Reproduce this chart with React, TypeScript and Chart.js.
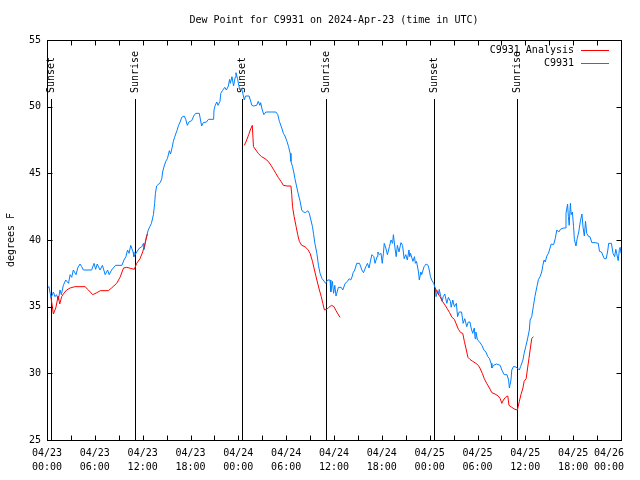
import React, { useEffect, useRef } from "react";
import { Chart, registerables } from "chart.js";

Chart.register(...registerables);

// ---- DATA ----
const chartTitle = "Dew Point for C9931 on 2024-Apr-23 (time in UTC)";
const yAxisTitle = "degrees F";
const seriesNames = ["C9931 Analysis", "C9931"];

const xTickDates = ["04/23", "04/23", "04/23", "04/23", "04/24", "04/24", "04/24", "04/24", "04/25", "04/25", "04/25", "04/25", "04/26"];
const xTickTimes = ["00:00", "06:00", "12:00", "18:00", "00:00", "06:00", "12:00", "18:00", "00:00", "06:00", "12:00", "18:00", "00:00"];

const sunHours = [0.45, 11.0, 24.5, 35.05, 48.6, 59.0];
const sunLabels = ["Sunset", "Sunrise", "Sunset", "Sunrise", "Sunset", "Sunrise"];
const sunLineTop = 50.6;

// Observations (hours since 04/23 00:00 UTC)
const blueHours = [
  0, 0.25, 0.5, 0.8, 1.0, 1.2, 1.42, 1.63, 1.8, 2.05, 2.35, 2.7, 2.9, 3.1, 3.3, 3.64, 3.85, 4.14, 4.35, 4.56,
  5.6, 5.9, 6.1, 6.3, 6.65, 6.95, 7.3, 7.6, 7.8, 8.1, 8.6, 9.4, 9.65, 9.9, 10.1, 10.3, 10.5, 10.8, 10.9, 11.25,
  11.6, 11.9, 12.1, 12.2, 12.4, 12.7, 12.9, 13.1, 13.35, 13.5, 13.6, 13.75, 14.2, 14.4, 14.5, 14.7, 14.9, 15.1, 15.35, 15.5,
  15.7, 15.85, 16.0, 16.3, 16.5, 16.7, 16.9, 17.2, 17.4, 17.6, 17.8, 18.15, 18.4, 18.65, 19.1, 19.3, 19.4, 19.6, 20.0, 20.25,
  20.9, 20.95, 21.1, 21.3, 21.45, 21.7, 21.8, 22.0, 22.3, 22.5, 22.75, 22.9, 23.0, 23.2, 23.4, 23.6, 23.7, 23.9, 24.05, 24.2,
  24.4, 24.6, 24.75, 24.9, 25.35, 25.7, 25.9, 26.3, 26.5, 26.7, 26.8, 27.0, 27.2, 27.45, 28.2, 28.7, 28.95, 29.15, 29.45, 29.65,
  29.85, 30.1, 30.3, 30.5, 30.6, 30.8, 30.95, 31.1, 31.3, 31.5, 31.75, 31.95, 32.15, 32.45, 32.7, 32.9, 33.1, 33.3, 33.45, 33.6,
  33.85, 34.05, 34.25, 34.5, 34.65, 34.95, 35.2, 35.5, 35.6, 35.8, 35.95, 36.1, 36.25, 36.55, 36.9, 37.1, 37.4, 37.7, 37.9, 38.1,
  38.3, 38.4, 38.6, 38.85, 39.2, 39.5, 39.7, 40.0, 40.2, 40.4, 40.6, 40.75, 41.0, 41.15, 41.4, 41.5, 41.7, 41.9, 42.05, 42.2,
  42.3, 42.5, 42.7, 42.95, 43.15, 43.35, 43.45, 43.65, 43.8, 43.95, 44.15, 44.4, 44.6, 44.8, 45.0, 45.2, 45.4, 45.5, 45.6, 45.9,
  46.1, 46.2, 46.35, 46.6, 46.7, 46.9, 47.0, 47.3, 47.55, 47.8, 47.95, 48.1, 48.25, 48.5, 48.7, 48.8, 49.0, 49.15, 49.2, 49.4,
  49.55, 49.7, 49.9, 50.15, 50.35, 50.6, 50.7, 50.9, 51.1, 51.35, 51.5, 51.7, 52.0, 52.2, 52.4, 52.65, 52.85, 53.05, 53.2, 53.4,
  53.6, 53.7, 53.8, 54.0, 54.2, 54.55, 54.8, 55.05, 55.3, 55.5, 55.7, 55.8, 56.0, 56.4, 56.85, 57.05, 57.35, 57.7, 57.9, 58.0,
  58.2, 58.3, 58.5, 58.7, 59.0, 59.25, 59.4, 59.7, 59.85, 60.05, 60.25, 60.5, 60.6, 60.8, 61.0, 61.2, 61.45, 61.65, 61.85, 62.05,
  62.2, 62.35, 62.5, 62.7, 62.9, 63.1, 63.25, 63.55, 63.75, 63.95, 64.2, 64.4, 64.8, 65.0, 65.1, 65.3, 65.4, 65.5, 65.65, 65.75,
  65.9, 66.05, 66.15, 66.35, 66.5, 66.7, 66.9, 67.1, 67.25, 67.4, 67.55, 67.7, 67.95, 68.1, 68.35, 68.75, 69.15, 69.3, 69.55, 69.9,
  70.15, 70.35, 70.45, 70.8, 71.0, 71.2, 71.35, 71.45, 71.65, 71.8, 71.9, 72.0,
];
const blueValues = [
  36.4, 36.5, 35.65, 36.1, 35.75, 35.9, 35.5, 36.25, 35.9, 36.6, 37.0, 36.75, 37.4, 37.2, 37.75, 37.4, 37.9, 38.2, 38.0, 37.75,
  37.75, 38.25, 37.8, 38.2, 37.75, 38.1, 37.4, 37.75, 37.4, 37.75, 38.1, 38.1, 38.5, 38.75, 39.25, 39.0, 39.6, 39.1, 38.75, 39.1,
  39.4, 39.5, 39.75, 39.3, 40.1, 40.75, 41.0, 41.25, 41.9, 42.75, 43.5, 44.05, 44.3, 44.6, 45.1, 45.55, 45.9, 46.1, 46.7, 46.45,
  46.95, 47.4, 47.7, 48.2, 48.6, 48.85, 49.2, 49.3, 49.05, 48.6, 48.85, 48.95, 49.3, 49.5, 49.5, 48.85, 48.55, 48.8, 48.85, 49.05,
  49.05, 49.75, 50.1, 50.35, 50.1, 50.4, 51.0, 51.2, 51.45, 51.25, 51.55, 52.05, 51.75, 52.25, 51.55, 52.2, 52.55, 52.1, 51.6, 51.25,
  51.4, 50.9, 50.5, 50.8, 50.8, 50.1, 50.05, 50.1, 50.4, 50.1, 50.3, 49.75, 49.4, 49.6, 49.6, 49.6, 49.4, 48.9, 48.4, 48.0,
  47.8, 47.4, 47.0, 46.5, 45.9, 45.5, 45.1, 44.6, 44.05, 43.5, 42.9, 42.25, 42.1, 42.05, 42.2, 42.0, 41.5, 41.0, 40.4, 39.75,
  39.0, 38.1, 37.5, 37.1, 37.0, 36.75, 37.0, 37.0, 36.1, 36.9, 36.0, 36.6, 35.8, 36.45, 36.45, 36.25, 36.75, 36.9, 37.1, 37.0,
  37.3, 37.55, 37.75, 38.25, 38.25, 37.75, 37.55, 38.0, 38.25, 37.9, 38.5, 38.9, 38.75, 38.25, 38.75, 39.1, 38.9, 39.0, 38.25, 39.0,
  39.75, 39.4, 38.9, 39.5, 40.0, 39.75, 40.4, 39.4, 38.75, 39.6, 39.1, 39.8, 39.6, 38.6, 38.9, 38.5, 39.25, 38.75, 39.0, 38.4,
  38.75, 38.25, 38.4, 37.6, 37.0, 37.6, 37.4, 38.0, 38.2, 38.1, 37.75, 37.25, 37.0, 36.75, 36.4, 35.75, 36.2, 35.9, 36.3, 35.75,
  35.4, 35.75, 35.95, 35.25, 35.7, 35.4, 34.95, 35.5, 35.0, 35.25, 34.25, 34.6, 34.6, 33.75, 34.1, 33.5, 33.85, 33.85, 33.4, 33.0,
  33.4, 32.6, 33.1, 32.5, 32.4, 32.1, 31.75, 31.6, 31.25, 31.1, 30.75, 30.4, 30.6, 30.7, 30.6, 30.25, 29.9, 29.9, 29.5, 28.9,
  29.5, 30.25, 30.5, 30.5, 30.4, 30.25, 30.5, 31.0, 31.5, 32.0, 32.5, 33.25, 34.0, 34.25, 35.0, 35.75, 36.5, 37.05, 37.25, 37.6,
  38.1, 38.5, 38.35, 38.8, 39.0, 39.4, 39.7, 39.65, 40.1, 40.75, 40.6, 40.8, 40.9, 40.9, 42.0, 42.7, 41.75, 41.1, 42.75, 41.9,
  42.1, 41.0, 40.05, 39.55, 40.1, 40.6, 41.4, 41.95, 40.9, 40.3, 41.4, 40.5, 40.25, 40.25, 39.8, 39.8, 39.75, 39.15, 39.1, 38.6,
  38.6, 39.25, 39.75, 39.75, 39.0, 38.75, 39.3, 39.0, 38.45, 39.3, 39.45, 39.0,
];

// Analysis (null = gap)
const redHours = [
  0.5, 0.8, 1.1, 1.4, 1.6, 1.84, 2.1, 2.47, 2.9, 3.5, 4.77, 5.2, 5.73, 6.25, 6.7, 7.7, 8.1, 8.74, 9.16, 9.6,
  10.0, 10.95, 11.25, 11.67, 12.0, 12.3, 12.6,
  18.0,
  24.75, 24.95, 25.3, 25.5, 25.75, 25.9, 26.2, 26.5, 26.9, 27.35, 27.75, 28.1, 28.4, 28.7, 29.0, 29.35, 29.65, 30.1, 30.6, 30.7,
  30.8, 31.0, 31.25, 31.45, 31.65, 31.95, 32.35, 32.7, 33.0, 33.3, 33.55, 33.85, 34.1, 34.4, 34.6, 34.8, 35.1, 35.35, 35.7, 36.0,
  36.25, 36.5, 36.75,
  42.0,
  48.7, 49.0, 49.3, 49.6, 49.95, 50.2, 50.5, 50.8, 51.1, 51.3, 51.6, 51.9, 52.15, 52.35, 52.6, 52.8, 53.05, 53.4, 53.8, 54.1,
  54.3, 54.6, 54.85, 55.15, 55.5, 55.8, 56.2, 56.6, 56.85, 57.05, 57.25, 57.5, 57.8, 57.95, 58.3, 58.7, 59.0, 59.25, 59.45, 59.7,
  59.85, 60.1, 60.25, 60.45, 60.6, 60.8, 61.0,
];
const redValues = [
  35.7, 34.45, 34.9, 35.8, 35.2, 35.75, 36.0, 36.25, 36.4, 36.5, 36.5, 36.25, 35.9, 36.05, 36.2, 36.2, 36.4, 36.75, 37.2, 37.9,
  37.95, 37.8, 38.25, 38.6, 39.1, 39.75, 40.45,
  null,
  47.1, 47.35, 47.9, 48.25, 48.6, 47.0, 46.75, 46.5, 46.25, 46.1, 45.9, 45.6, 45.3, 45.0, 44.7, 44.4, 44.1, 44.05, 44.05, 43.4,
  42.5, 41.75, 41.0, 40.4, 39.9, 39.6, 39.5, 39.3, 39.0, 38.4, 37.75, 37.0, 36.4, 35.75, 35.25, 34.75, 34.8, 34.95, 35.1, 35.0,
  34.7, 34.45, 34.2,
  null,
  36.4, 36.0, 35.75, 35.4, 35.1, 34.85, 34.55, 34.2, 34.05, 33.75, 33.3, 33.05, 33.0, 32.4, 31.75, 31.2, 31.05, 30.9, 30.75, 30.6,
  30.4, 30.0, 29.6, 29.25, 28.9, 28.55, 28.45, 28.3, 28.1, 27.75, 28.0, 28.2, 28.3, 27.6, 27.45, 27.3, 27.25, 27.9, 28.4, 28.9,
  29.4, 29.6, 30.25, 31.1, 31.75, 32.6, 32.75,
];

const RED = "#ff0000";
const BLUE = "#0080ff";
const FONT = "DejaVu Sans Mono";

export default function App() {
  const ref = useRef<HTMLCanvasElement | null>(null);

  useEffect(() => {
    if (!ref.current) return;
    const font = { family: FONT, size: 10 };

    const overlay = {
      id: "overlay",
      beforeDatasetsDraw(chart: any) {
        const { ctx, chartArea: a, scales } = chart;
        const x = scales.x;
        const y = scales.y;
        ctx.save();
        ctx.strokeStyle = "#000";
        ctx.fillStyle = "#000";
        ctx.lineWidth = 1;
        ctx.font = `10px "${FONT}"`;
        sunHours.forEach((h, i) => {
          const px = Math.round(x.getPixelForValue(h)) + 0.5;
          const top = Math.round(y.getPixelForValue(sunLineTop));
          ctx.beginPath();
          ctx.moveTo(px, a.bottom);
          ctx.lineTo(px, top);
          ctx.stroke();
          ctx.save();
          ctx.translate(px, top - 6);
          ctx.rotate(-Math.PI / 2);
          ctx.textAlign = "left";
          ctx.textBaseline = "middle";
          ctx.fillText(sunLabels[i], 0, 0);
          ctx.restore();
        });
        ctx.restore();
      },
      afterDraw(chart: any) {
        const { ctx, chartArea: a, scales } = chart;
        const x = scales.x;
        const y = scales.y;
        ctx.save();
        ctx.strokeStyle = "#000";
        ctx.fillStyle = "#000";
        ctx.lineWidth = 1;
        // frame
        const L = Math.round(a.left) + 0.5;
        const R = Math.round(a.right) + 0.5;
        const T = Math.round(a.top) + 0.5;
        const B = Math.round(a.bottom) + 0.5;
        ctx.strokeRect(L, T, R - L, B - T);
        // ticks (inward, mirrored)
        const tl = 5;
        ctx.beginPath();
        for (let h = 3; h < 72; h += 3) {
          const px = Math.round(x.getPixelForValue(h)) + 0.5;
          ctx.moveTo(px, B);
          ctx.lineTo(px, B - tl);
          ctx.moveTo(px, T);
          ctx.lineTo(px, T + tl);
        }
        for (let v = 30; v < 55; v += 5) {
          const py = Math.round(y.getPixelForValue(v)) + 0.5;
          ctx.moveTo(L, py);
          ctx.lineTo(L + tl, py);
          ctx.moveTo(R, py);
          ctx.lineTo(R - tl, py);
        }
        ctx.stroke();
        ctx.font = `10px "${FONT}"`;
        // title
        ctx.textAlign = "center";
        ctx.textBaseline = "middle";
        ctx.fillText(chartTitle, (a.left + a.right) / 2, 20);
        // y title
        ctx.save();
        ctx.translate(11, (a.top + a.bottom) / 2);
        ctx.rotate(-Math.PI / 2);
        ctx.fillText(yAxisTitle, 0, 0);
        ctx.restore();
        // legend
        const colors = [RED, BLUE];
        seriesNames.forEach((name, i) => {
          const ly = Math.round(a.top + 10 + i * 13) + 0.5;
          ctx.fillStyle = "#000";
          ctx.textAlign = "right";
          ctx.textBaseline = "middle";
          ctx.fillText(name, a.right - 47, ly);
          ctx.strokeStyle = colors[i];
          ctx.beginPath();
          ctx.moveTo(a.right - 40, ly);
          ctx.lineTo(a.right - 12, ly);
          ctx.stroke();
        });
        ctx.restore();
      },
    };

    const chart = new Chart(ref.current, {
      type: "line",
      data: {
        datasets: [
          {
            label: seriesNames[0],
            data: redHours.map((h, i) => ({ x: h, y: redValues[i] })),
            borderColor: RED,
            borderWidth: 1,
            pointRadius: 0,
            spanGaps: false,
            tension: 0,
            fill: false,
          },
          {
            label: seriesNames[1],
            data: blueHours.map((h, i) => ({ x: h, y: blueValues[i] })),
            borderColor: BLUE,
            borderWidth: 1,
            pointRadius: 0,
            tension: 0,
            fill: false,
          },
        ] as any,
      },
      options: {
        animation: false,
        responsive: false,
        maintainAspectRatio: false,
        layout: { padding: { top: 40, right: 19, left: 0, bottom: 0 } },
        plugins: {
          legend: { display: false },
          tooltip: { enabled: false },
          title: { display: false },
        },
        scales: {
          x: {
            type: "linear",
            min: 0,
            max: 72,
            grid: { display: false, drawTicks: false },
            border: { display: false },
            ticks: {
              stepSize: 6,
              autoSkip: false,
              maxRotation: 0,
              minRotation: 0,
              padding: 6,
              color: "#000",
              font: { ...font, lineHeight: 1.4 },
              callback: (_v: any, i: number) =>
                i === xTickDates.length - 1
                  ? [xTickDates[i] + "    ", xTickTimes[i] + "    "]
                  : [xTickDates[i], xTickTimes[i]],
            },
            afterFit: (s: any) => {
              s.height = 40;
              s.paddingLeft = 0;
              s.paddingRight = 0;
            },
          },
          y: {
            type: "linear",
            min: 25,
            max: 55,
            grid: { display: false, drawTicks: false },
            border: { display: false },
            ticks: { stepSize: 5, padding: 6, color: "#000", font },
            afterFit: (s: any) => {
              s.width = 47;
              s.paddingTop = 0;
              s.paddingBottom = 0;
            },
          },
        },
      } as any,
      plugins: [overlay],
    });
    return () => chart.destroy();
  }, []);

  return (
    <div style={{ position: "fixed", left: 0, top: 0, width: 640, height: 480, background: "#fff" }}>
      <canvas ref={ref} width={640} height={480} style={{ display: "block", width: 640, height: 480 }} />
    </div>
  );
}
